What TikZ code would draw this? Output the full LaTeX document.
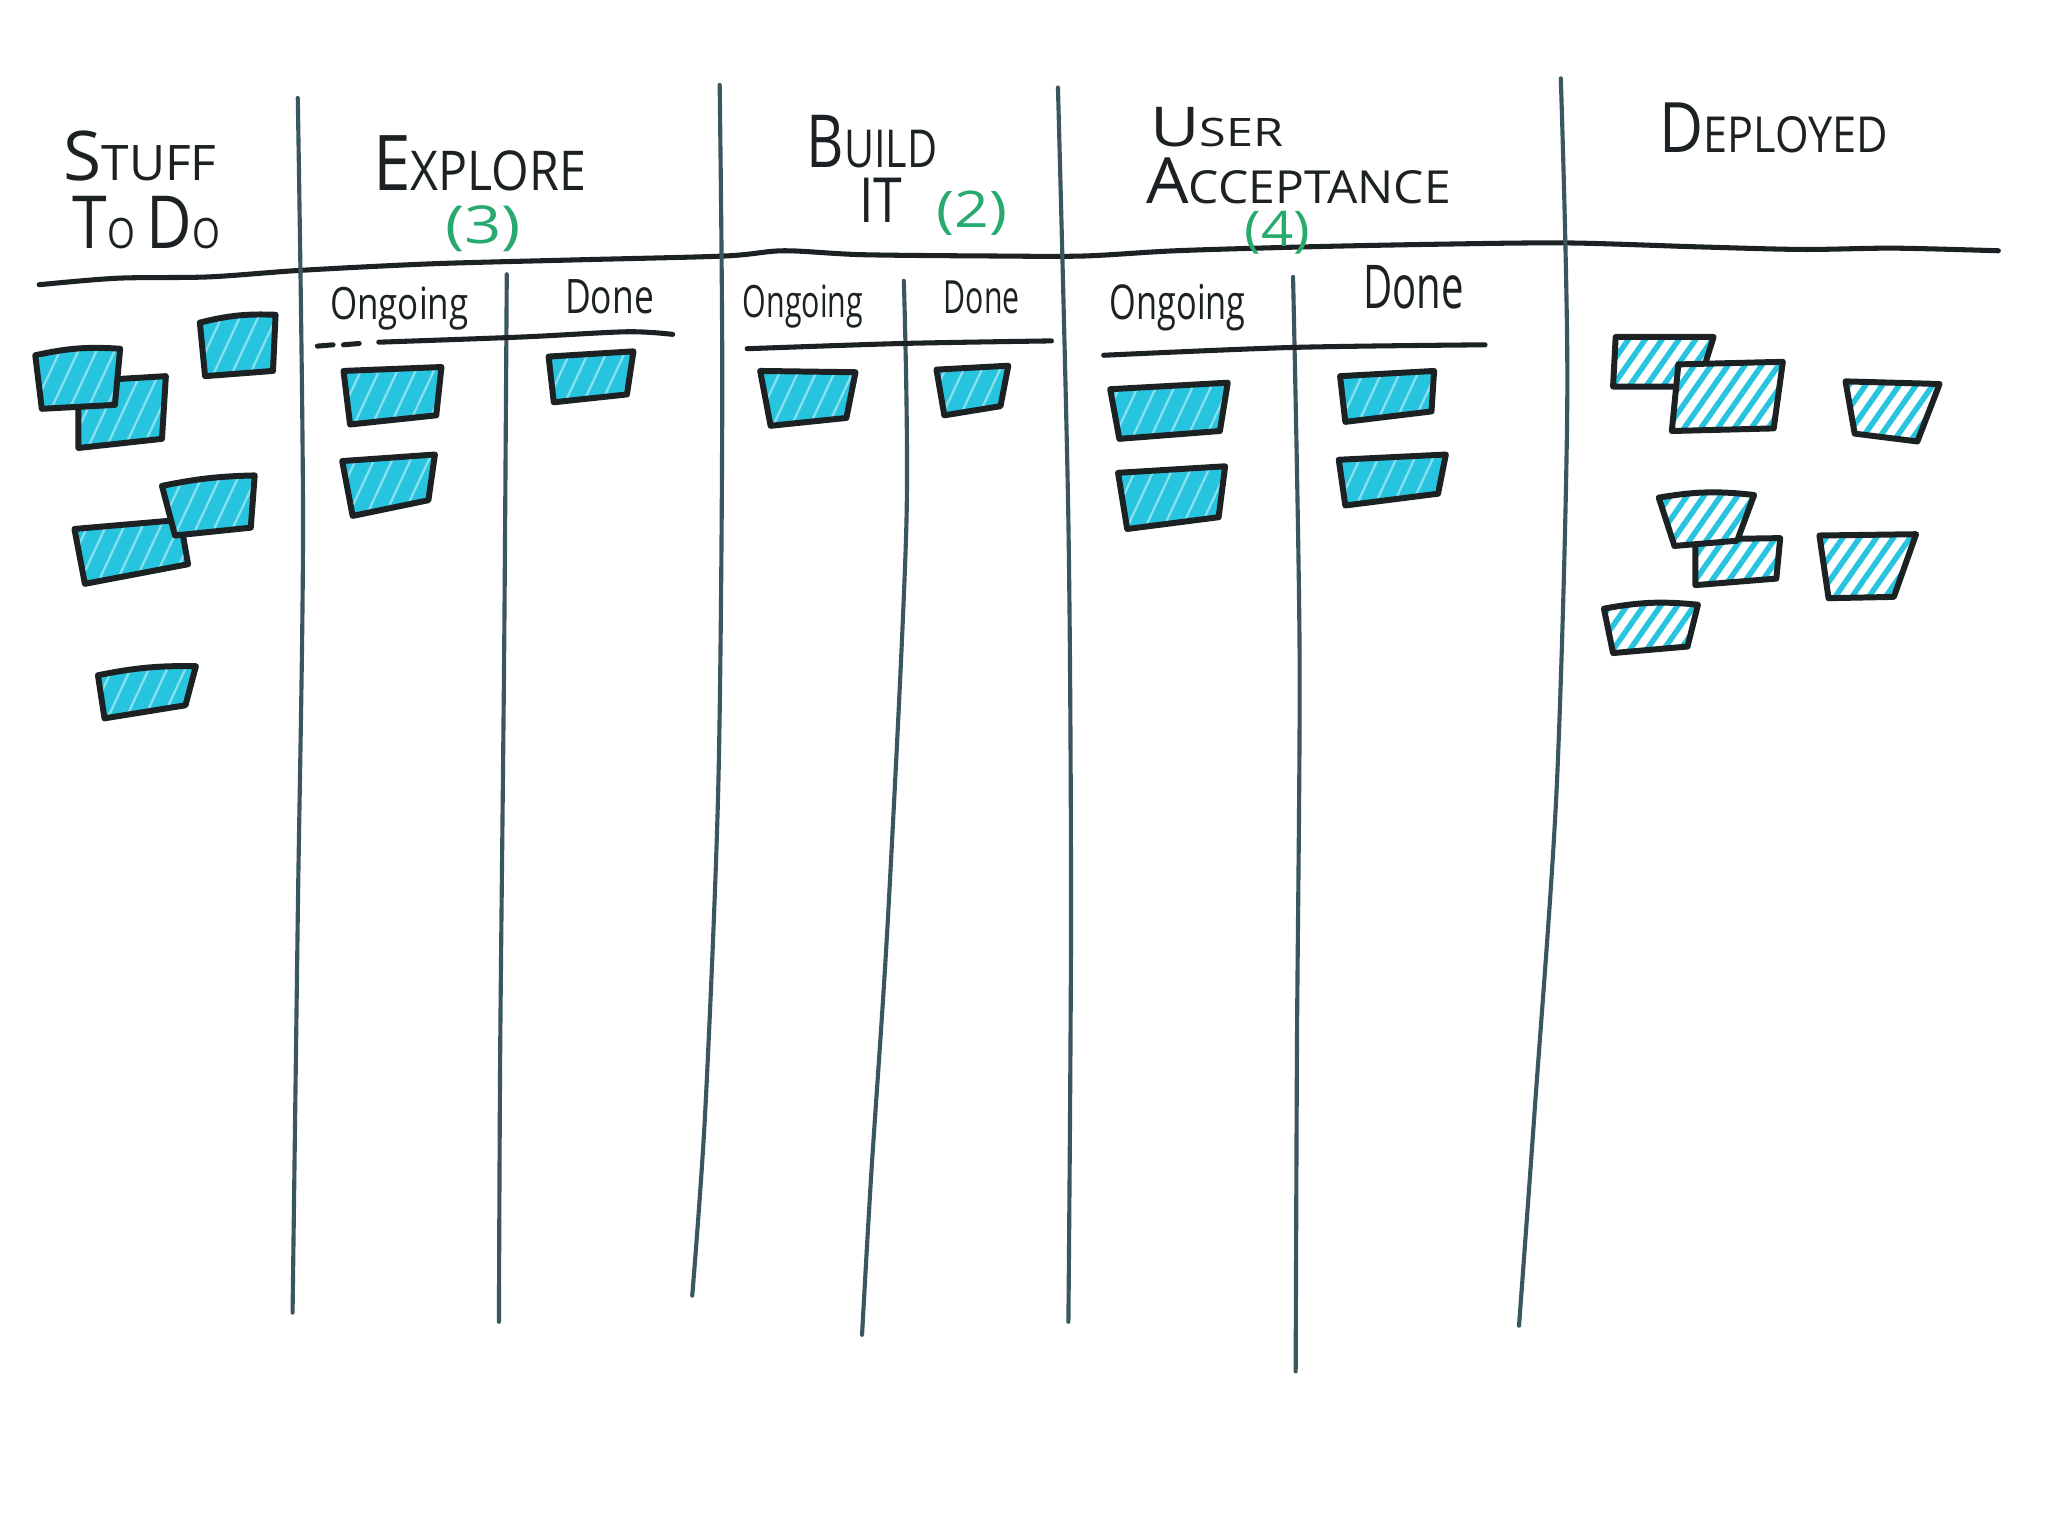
\documentclass[tikz,border=0pt]{standalone}
\usepackage{fontspec}
\usepackage{graphicx}
\newfontfamily\hand{Open Sans}
\usetikzlibrary{patterns.meta}
\definecolor{ink}{RGB}{28,34,36}
\definecolor{slate}{RGB}{60,86,96}
\definecolor{greenink}{RGB}{40,170,110}
\definecolor{cardcyan}{RGB}{38,196,222}
\newlength\pxu \setlength\pxu{0.01cm}
\newcommand\hw[3]{\resizebox{#1\pxu}{#2\pxu}{\hand #3}}
\newcommand\BL[1]{{\fontsize{14pt}{14pt}\selectfont #1}}
\newcommand\SM[1]{{\fontsize{8pt}{8pt}\selectfont #1}}
\begin{document}
\begin{tikzpicture}[x={(0.01cm,0)},y={(0,-0.01cm)},
  lbl/.style={inner sep=0pt, text=ink},
  num/.style={inner sep=0pt, text=greenink},
  vline/.style={draw=slate, line width=0.9pt, line cap=round},
  hline/.style={draw=ink, line width=1.1pt, line cap=round, line join=round},
  solidcard/.style={draw=ink, line width=1.3pt, line join=round,
    preaction={fill=cardcyan},
    pattern={Lines[angle=65,distance=3.6pt,line width=0.5pt]},
    pattern color=cardcyan!55!white},
  hatchcard/.style={draw=ink, line width=1.3pt, line join=round,
    preaction={fill=white},
    pattern={Lines[angle=55,distance=3pt,line width=1.2pt]},
    pattern color=cardcyan}]
\useasboundingbox[fill=white] (0,0) rectangle (1568,1176);

% main header line
\draw[hline] plot[smooth] coordinates {(30,218) (90,213) (160,212) (230,207) (330,202) (440,199) (555,196) (600,192) (660,195) (760,196) (830,196) (900,192) (1000,189) (1100,187) (1200,186) (1300,189) (1380,191) (1450,190) (1530,192)};

% column dividers
\draw[vline] plot[smooth] coordinates {(228,75) (232,400) (228,700) (224,1005)};
\draw[vline] plot[smooth] coordinates {(551,65) (553,300) (550,600) (540,850) (530,992)};
\draw[vline] plot[smooth] coordinates {(810,67) (818,400) (820,700) (818,1012)};
\draw[vline] plot[smooth] coordinates {(1195,60) (1200,300) (1192,600) (1175,850) (1163,1015)};
% sub dividers
\draw[vline] plot[smooth] coordinates {(388,210) (386,500) (383,800) (382,1012)};
\draw[vline] plot[smooth] coordinates {(692,215) (694,400) (680,700) (667,900) (660,1022)};
\draw[vline] plot[smooth] coordinates {(990,212) (995,500) (993,800) (992,1050)};

% sub header lines
\draw[hline] (243,265) -- (255,264);
\draw[hline] (263,264) -- (275,263);
\draw[hline] plot[smooth] coordinates {(290,262) (400,258) (480,254) (515,256)};
\draw[hline] plot[smooth] coordinates {(572,267) (690,263) (805,261)};
\draw[hline] plot[smooth] coordinates {(845,272) (990,266) (1137,264)};

% headers
\node[lbl, anchor=base west] (stuff) at (48,138) {\hw{117}{38}{\BL{S}TUFF}};
\node[lbl, anchor=base west] (todo) at (55,190) {\hw{113}{40}{\BL{T}\SM{O}\ \BL{D}\SM{O}}};
\node[lbl, anchor=base west] (explore) at (285,146) {\hw{163}{42}{\BL{E}XPLORE}};
\node[num, anchor=center] (n3) at (370,175) {\hw{58}{29}{(3)}};
\node[lbl, anchor=base west] (build) at (617,128) {\hw{100}{40}{\BL{B}UILD}};
\node[lbl, anchor=base west] (it) at (657,170) {\hw{33}{34}{IT}};
\node[num, anchor=center] (n2) at (744,163) {\hw{54}{28}{(2)}};
\node[lbl, anchor=base west] (user) at (880,112) {\hw{102}{30}{\BL{U}SER}};
\node[lbl, anchor=base west] (accept) at (877,156) {\hw{233}{35}{\BL{A}CCEPTANCE}};
\node[num, anchor=center] (n4) at (978,178) {\hw{50}{27}{(4)}};
\node[lbl, anchor=base west] (deployed) at (1270,117) {\hw{175}{38}{\BL{D}EPLOYED}};

% sub headers
\node[lbl, anchor=base west] (ong1) at (252,245) {\hw{106}{25}{Ongoing}};
\node[lbl, anchor=base west] (done1) at (432,240) {\hw{68}{26}{Done}};
\node[lbl, anchor=base west] (ong2) at (568,243) {\hw{92}{25}{Ongoing}};
\node[lbl, anchor=base west] (done2) at (722,240) {\hw{58}{25}{Done}};
\node[lbl, anchor=base west] (ong3) at (849,245) {\hw{104}{27}{Ongoing}};
\node[lbl, anchor=base west] (done3) at (1043,236) {\hw{77}{33}{Done}};

% Stuff to do cards
\draw[solidcard] (60,292) -- (127,288) -- (124,336) -- (60,343) -- cycle;
\draw[solidcard] (27,272) to[bend left=8] (92,267) -- (88,310) -- (32,313) -- cycle;
\draw[solidcard] (153,247) to[bend left=8] (211,241) -- (209,284) -- (157,288) -- cycle;
\draw[solidcard] (57,405) -- (138,398) -- (144,432) -- (65,447) -- cycle;
\draw[solidcard] (124,372) to[bend left=5] (195,364) -- (192,404) -- (134,410) -- cycle;
\draw[solidcard] (75,517) to[bend left=6] (150,510) -- (142,540) -- (80,550) -- cycle;
% Explore
\draw[solidcard] (263,284) -- (338,281) -- (334,318) -- (268,325) -- cycle;
\draw[solidcard] (262,353) -- (333,348) -- (328,383) -- (270,395) -- cycle;
\draw[solidcard] (420,273) -- (485,269) -- (480,302) -- (424,308) -- cycle;
% Build it
\draw[solidcard] (582,284) -- (655,285) -- (648,320) -- (590,326) -- cycle;
\draw[solidcard] (717,283) -- (772,280) -- (766,311) -- (723,318) -- cycle;
% User acceptance
\draw[solidcard] (850,298) -- (940,293) -- (934,330) -- (857,336) -- cycle;
\draw[solidcard] (856,362) -- (938,357) -- (933,396) -- (863,405) -- cycle;
\draw[solidcard] (1026,288) -- (1098,284) -- (1096,315) -- (1030,323) -- cycle;
\draw[solidcard] (1025,352) -- (1107,348) -- (1101,378) -- (1030,387) -- cycle;
% Deployed
\draw[hatchcard] (1237,258) -- (1312,258) -- (1300,296) -- (1235,296) -- cycle;
\draw[hatchcard] (1285,279) -- (1365,277) -- (1358,328) -- (1280,330) -- cycle;
\draw[hatchcard] (1413,292) -- (1485,294) -- (1468,338) -- (1420,332) -- cycle;
\draw[hatchcard] (1298,413) -- (1363,412) -- (1360,443) -- (1298,448) -- cycle;
\draw[hatchcard] (1270,381) to[bend left=8] (1343,379) -- (1330,414) -- (1282,418) -- cycle;
\draw[hatchcard] (1393,410) -- (1467,409) -- (1450,457) -- (1400,458) -- cycle;
\draw[hatchcard] (1228,466) to[bend left=8] (1300,463) -- (1292,495) -- (1235,500) -- cycle;
\end{tikzpicture}
\end{document}
